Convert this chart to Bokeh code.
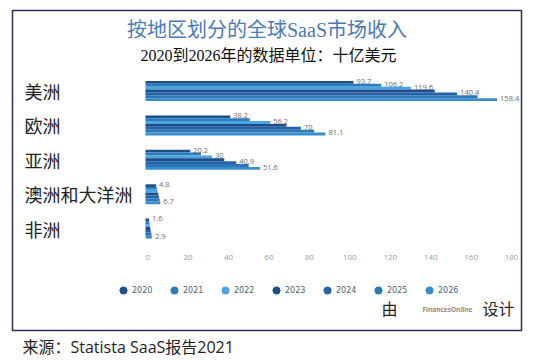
from bokeh.plotting import figure
from bokeh.models import (ColumnDataSource, Range1d, LinearAxis, LabelSet, Label,
                          Legend, LegendItem, FixedTicker, Title)
from bokeh.core.properties import value
from bokeh.embed import file_html
from bokeh.resources import INLINE

# ---------------- data ----------------
regions = ["美洲", "欧洲", "亚洲", "澳洲和大洋洲", "非洲"]
years = ["2020", "2021", "2022", "2023", "2024", "2025", "2026"]

americas = [93.7, 106.2, 119.6, 130.3, 140.4, 149.6, 158.4]
americas_labels = ["93.7", "106.2", "119.6", "", "140.4", "", "158.4"]
europe = [38.2, 47.0, 56.2, 63.5, 70.0, 76.0, 81.1]
europe_labels = ["38.2", "", "56.2", "", "70", "", "81.1"]
asia = [20.2, 25.0, 30.0, 35.5, 40.9, 46.5, 51.6]
asia_labels = ["20.2", "", "30", "", "40.9", "", "51.6"]
oceania = [4.8, 5.1, 5.4, 5.8, 6.1, 6.4, 6.7]
oceania_labels = ["4.8", "", "", "", "", "", "6.7"]
africa = [1.6, 1.8, 2.0, 2.2, 2.4, 2.7, 2.9]
africa_labels = ["1.6", "", "", "", "", "", "2.9"]

year_colors = ["#1d4f8b", "#2b7bbf", "#48a5df", "#1c4d8a", "#2464a6", "#2a76b8", "#3a8dcc"]
axis_ticks = [0, 20, 40, 60, 80, 100, 120, 140, 160, 180]

title_text = "按地区划分的全球SaaS市场收入"
subtitle_text = "2020到2026年的数据单位：十亿美元"
source_text = "来源：Statista SaaS报告2021"

# ---------------- build table ----------------
series = [americas, europe, asia, oceania, africa]
series_labels = [americas_labels, europe_labels, asia_labels, oceania_labels, africa_labels]
n_reg = len(regions)
bar_h = 0.0831
ys, xs, cols, labs = [], [], [], []
for ri, (vals, lbls) in enumerate(zip(series, series_labels)):
    center = n_reg - 1 - ri
    for k, (v, l) in enumerate(zip(vals, lbls)):
        ys.append(center + (3 - k) * bar_h)
        xs.append(v)
        cols.append(year_colors[k])
        labs.append(l)
src = ColumnDataSource(dict(y=ys, x=xs, color=cols, label=labs))
reg_src = ColumnDataSource(dict(y=[n_reg - 1 - i for i in range(n_reg)], name=regions))

p = figure(width=552, height=361, x_range=Range1d(-59.9, 169.4),
           y_range=Range1d(-2.967, 6.342), x_axis_type=None, y_axis_type=None,
           toolbar_location=None, output_backend="svg",
           min_border_left=12, min_border_right=31, min_border_top=10, min_border_bottom=31)
p.xgrid.visible = False
p.ygrid.visible = False
p.outline_line_color = "#2b2b5c"
p.outline_line_width = 1.5
p.background_fill_color = "white"
p.border_fill_color = "white"
p.extra_x_ranges = {"axis": Range1d(-66.8, 184.9)}

p.hbar(y="y", left=0, right="x", height=bar_h, color="color", line_color=None, source=src)

p.add_layout(LabelSet(x="x", y="y", text="label", source=src, x_offset=3, y_offset=1,
                      text_baseline="middle", text_font_size="7.5px",
                      text_font=value("Open Sans"), text_color="#6b6b6b"))

p.add_layout(LabelSet(x=12, y="y", x_units="screen", text="name", source=reg_src,
                      text_baseline="middle", text_font_size="18px",
                      text_font=value("Noto Sans CJK SC"), text_color="#222222"))

ax = LinearAxis(x_range_name="axis", ticker=FixedTicker(ticks=axis_ticks), fixed_location=-0.523,
                axis_line_color=None, major_tick_line_color=None, minor_tick_line_color=None,
                major_label_text_color="#a0a0a0", major_label_text_font_size="8px",
                major_label_text_font="Open Sans", major_label_standoff=3)
p.add_layout(ax, "below")

nan = float("nan")
dummies = [p.scatter(x=[nan], y=[nan], marker="circle", color=c) for c in year_colors]
legend = Legend(items=[LegendItem(label=yv, renderers=[r]) for yv, r in zip(years, dummies)],
                location=(102, 31), orientation="horizontal", glyph_width=18, glyph_height=18,
                label_standoff=0, label_width=28, label_height=18, spacing=5, padding=0, margin=0,
                border_line_color=None, background_fill_alpha=0, label_text_font_size="8px",
                label_text_color="#4a5d78", label_text_font="DejaVu Sans")
p.add_layout(legend, "center")

serif = "'Liberation Serif', 'Noto Sans CJK SC'"
p.add_layout(Label(x=254.5, y=301, x_units="screen", y_units="screen", text=title_text,
                   text_align="center", text_baseline="middle", text_font_size="20px",
                   text_color="#4b7bb5", text_font=serif))
p.add_layout(Label(x=256, y=275, x_units="screen", y_units="screen", text=subtitle_text,
                   text_align="center", text_baseline="middle", text_font_size="16px",
                   text_color="#111111", text_font=serif))
p.add_layout(Label(x=369, y=21, x_units="screen", y_units="screen", text="由",
                   text_baseline="middle", text_font_size="16px", text_color="#222222", text_font=serif))
p.add_layout(Label(x=410, y=21, x_units="screen", y_units="screen", text="FinancesOnline",
                   text_baseline="middle", text_font_size="6.5px", text_font_style="bold",
                   text_color="#8a8a8a", text_font="Open Sans"))
p.add_layout(Label(x=470, y=21, x_units="screen", y_units="screen", text="设计",
                   text_baseline="middle", text_font_size="16px", text_color="#222222", text_font=serif))

src_title = Title(text=source_text, align="left", offset=10, standoff=6,
                  text_font_size="16px", text_font_style="normal", text_color="#222222",
                  text_font="'Open Sans', 'Noto Sans CJK SC'")
p.add_layout(src_title, "below")

open("out.html", "w").write(file_html(p, INLINE))
